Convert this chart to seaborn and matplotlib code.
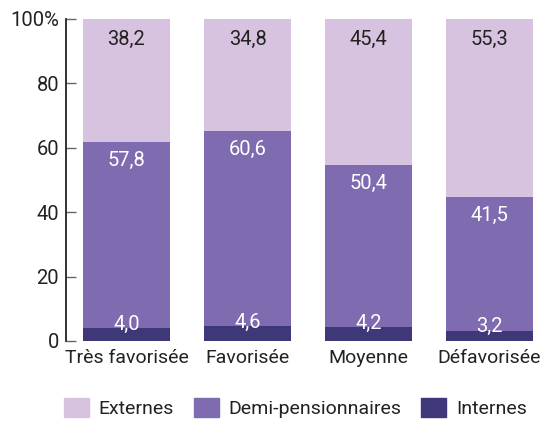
import pandas as pd
import matplotlib.pyplot as plt
import seaborn as sns
from matplotlib.patches import Patch

categories = ["Très favorisée", "Favorisée", "Moyenne", "Défavorisée"]
externes = [38.2, 34.8, 45.4, 55.3]
demi = [57.8, 60.6, 50.4, 41.5]
internes = [4.0, 4.6, 4.2, 3.2]

c_ext = "#d7c3df"
c_demi = "#7f6bb0"
c_int = "#3e3878"
txt = "#222222"

sns.set_theme(style="white")
plt.rcParams["font.family"] = ["Roboto", "DejaVu Sans"]

df = pd.DataFrame({"cat": categories, "ext": externes, "demi": demi, "int": internes})
df["total"] = df["ext"] + df["demi"] + df["int"]
df["lower"] = df["demi"] + df["int"]

fig = plt.figure(figsize=(5.42, 4.21), dpi=100)
ax = fig.add_axes([66 / 542, 80 / 421, 476 / 542, 322 / 421])

for col, c in [("total", c_ext), ("lower", c_demi), ("int", c_int)]:
    sns.barplot(data=df, x="cat", y=col, color=c, width=0.72, saturation=1,
                linewidth=0, ax=ax)

fmt = lambda v: f"{v:.1f}".replace(".", ",")
for i, row in df.iterrows():
    ax.text(i, row["total"] - 6.2, fmt(row["ext"]), ha="center", va="center",
            color=txt, fontsize=14.5)
    ax.text(i, row["lower"] - 5.8, fmt(row["demi"]), ha="center", va="center",
            color="white", fontsize=14.5)
    ax.text(i, row["int"] + 1.2, fmt(row["int"]), ha="center", va="center",
            color="white", fontsize=14.5)

ax.set_xlim(-0.5, -0.5 + 476 / 121)
ax.set_ylim(0, 100)
ax.set_yticks([0, 20, 40, 60, 80, 100])
ax.set_yticklabels(["0", "20", "40", "60", "80", "100%"])
ax.set_xlabel("")
ax.set_ylabel("")
for s in ["top", "right", "bottom"]:
    ax.spines[s].set_visible(False)
ax.spines["left"].set_color("#222222")
ax.spines["left"].set_linewidth(1.3)
ax.tick_params(axis="y", left=True, direction="in", length=7, width=1, color="#666666",
               labelsize=14.5, labelcolor=txt, pad=5)
ax.tick_params(axis="x", bottom=False, length=0, labelsize=14, labelcolor=txt, pad=6)

handles = [Patch(color=c_ext, label="Externes"),
           Patch(color=c_demi, label="Demi-pensionnaires"),
           Patch(color=c_int, label="Internes")]
fig.legend(handles=handles, loc="lower center", bbox_to_anchor=(0.545, -0.035), ncol=3,
           frameon=False, fontsize=14, handlelength=1.3, handleheight=1.15,
           columnspacing=1.0, handletextpad=0.5, labelcolor=txt)

fig.savefig("out.png", dpi=100)
